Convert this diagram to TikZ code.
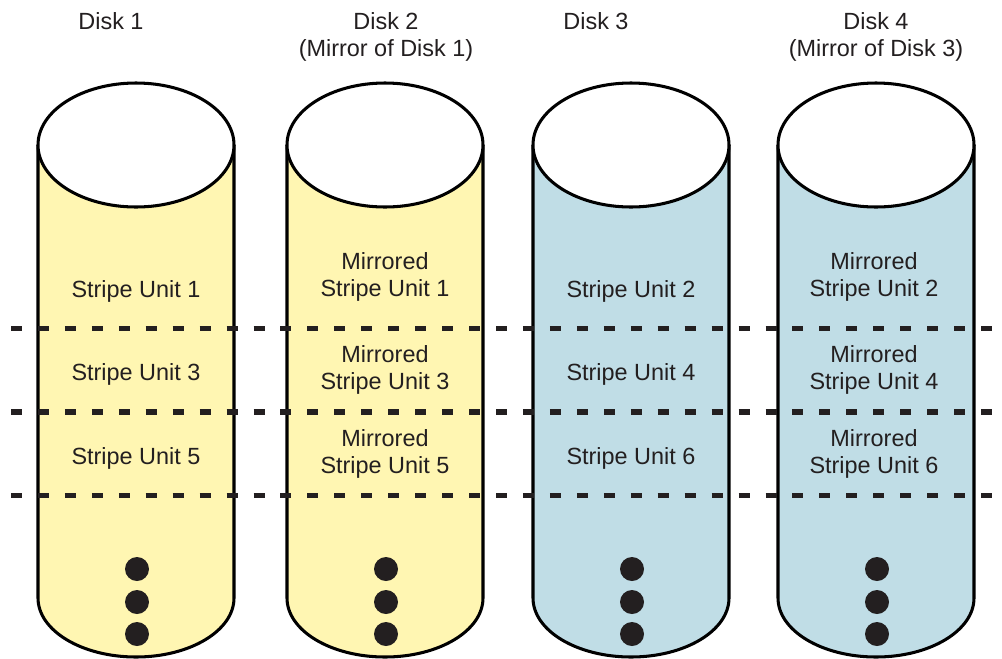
\documentclass[tikz,border=0pt]{standalone}
\usepackage{fontspec}
\setmainfont{Liberation Sans}
\definecolor{diskyellow}{HTML}{FFF6B2}
\definecolor{diskblue}{HTML}{C0DDE6}
\definecolor{dotgray}{HTML}{231F20}
\tikzset{
  diskedge/.style={line width=2.6pt,black},
  txt/.style={font=\fontsize{20}{23}\selectfont,align=center,inner sep=0pt,text=dotgray},
  stripeline/.style={line width=4.7pt,dotgray,dash pattern=on 9.4pt off 13.6pt,dash phase=13.6pt}
}
\begin{document}
\begin{tikzpicture}[x=0.03cm,y=0.03cm]
\useasboundingbox (0,0) rectangle (1002,-658);
\foreach \cx/\col in {136/diskyellow,385/diskyellow,631/diskblue,876/diskblue}{
  \fill[\col] (\cx-98,-145) -- (\cx-98,-598) arc[start angle=180,end angle=360,x radius=98,y radius=59] -- (\cx+98,-145) -- cycle;
  \draw[diskedge] (\cx-98,-145) -- (\cx-98,-598) arc[start angle=180,end angle=360,x radius=98,y radius=59] -- (\cx+98,-145);
  \draw[diskedge,fill=white] (\cx,-145) ellipse[x radius=98,y radius=62];
  \foreach \dy in {569,602,634}
    \fill[dotgray] (\cx+1,-\dy) circle[radius=12];
}
\coordinate (rowA-w) at (0,-328.5);
\coordinate (rowA-e) at (1002,-328.5);
\coordinate (rowB-w) at (0,-412);
\coordinate (rowB-e) at (1002,-412);
\coordinate (rowC-w) at (0,-495.5);
\coordinate (rowC-e) at (1002,-495.5);
\draw[stripeline] (rowA-w) -- (rowA-e);
\draw[stripeline] (rowB-w) -- (rowB-e);
\draw[stripeline] (rowC-w) -- (rowC-e);
\node[txt] (disk1) at (111,-21) {Disk 1};
\node[txt] (disk2) at (386,-37) {Disk 2\\(Mirror of Disk 1)};
\node[txt] (disk3) at (596,-21) {Disk 3};
\node[txt] (disk4) at (876,-37) {Disk 4\\(Mirror of Disk 3)};
\node[txt] (su1) at (136,-291) {Stripe Unit 1};
\node[txt] (su3) at (136,-374) {Stripe Unit 3};
\node[txt] (su5) at (136,-458) {Stripe Unit 5};
\node[txt] (msu1) at (385,-277) {Mirrored\\Stripe Unit 1};
\node[txt] (msu3) at (385,-370) {Mirrored\\Stripe Unit 3};
\node[txt] (msu5) at (385,-454) {Mirrored\\Stripe Unit 5};
\node[txt] (su2) at (631,-291) {Stripe Unit 2};
\node[txt] (su4) at (631,-374) {Stripe Unit 4};
\node[txt] (su6) at (631,-458) {Stripe Unit 6};
\node[txt] (msu2) at (874,-277) {Mirrored\\Stripe Unit 2};
\node[txt] (msu4) at (874,-370) {Mirrored\\Stripe Unit 4};
\node[txt] (msu6) at (874,-454) {Mirrored\\Stripe Unit 6};
\end{tikzpicture}
\end{document}
